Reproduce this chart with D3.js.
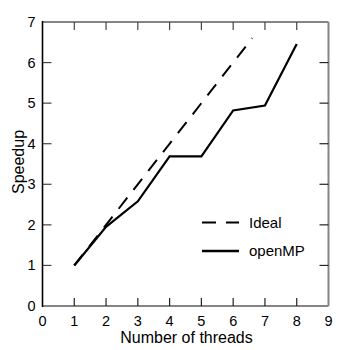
<!DOCTYPE html>
<html>
<head>
<meta charset="utf-8">
<script src="https://cdn.jsdelivr.net/npm/d3@7"></script>
<style>
  body { margin: 0; background: #fff; }
  text { font-family: "Liberation Sans", Arial, sans-serif; }
</style>
</head>
<body>
<div id="container"></div>
<script>
const threads = [1, 2, 3, 4, 5, 6, 7, 8],
      openMP = [1, 1.95, 2.58, 3.69, 3.69, 4.82, 4.94, 6.46];
const idealX = [1, 6.6],
      idealY = [1, 6.6];
const xTicks = [0, 1, 2, 3, 4, 5, 6, 7, 8, 9],
      yTicks = [0, 1, 2, 3, 4, 5, 6, 7];
const seriesNames = ["Ideal", "openMP"];

const WIDTH = 346, HEIGHT = 350;
const margin = { top: 22, left: 42.5, right: 17.5, bottom: 44 };
const width = WIDTH - margin.left - margin.right,
      height = HEIGHT - margin.top - margin.bottom;

const svg = d3.select('#container').append('svg')
    .attr("width", WIDTH).attr("height", HEIGHT);

const g = svg.append('g')
    .attr("transform", `translate(${margin.left},${margin.top})`);

const xScale = d3.scaleLinear().domain([0, 9]).range([0, width]);
const yScale = d3.scaleLinear().domain([0, 7]).range([height, 0]);

// box: top / right / bottom grey, left black
const grey = "#858585";
g.append("line").attr("x1", 0).attr("x2", width).attr("y1", 0).attr("y2", 0)
    .attr("stroke", grey).attr("stroke-width", 2);
g.append("line").attr("x1", width).attr("x2", width).attr("y1", 0).attr("y2", height)
    .attr("stroke", grey).attr("stroke-width", 2);
g.append("line").attr("x1", 0).attr("x2", width).attr("y1", height).attr("y2", height)
    .attr("stroke", grey).attr("stroke-width", 2);

// inward ticks on all four sides
const tickLen = 8;
g.selectAll(".xtb").data(xTicks.slice(1, -1)).join("line")
    .attr("x1", d => xScale(d)).attr("x2", d => xScale(d))
    .attr("y1", height).attr("y2", height - tickLen)
    .attr("stroke", "#222").attr("stroke-width", 1.2);
g.selectAll(".xtt").data(xTicks.slice(1, -1)).join("line")
    .attr("x1", d => xScale(d)).attr("x2", d => xScale(d))
    .attr("y1", 0).attr("y2", tickLen)
    .attr("stroke", "#444").attr("stroke-width", 1.2);
g.selectAll(".ytl").data(yTicks.slice(1, -1)).join("line")
    .attr("x1", 0).attr("x2", tickLen + 1)
    .attr("y1", d => yScale(d)).attr("y2", d => yScale(d))
    .attr("stroke", "#444").attr("stroke-width", 1.2);
g.selectAll(".ytr").data(yTicks.slice(1, -1)).join("line")
    .attr("x1", width).attr("x2", width - tickLen - 1)
    .attr("y1", d => yScale(d)).attr("y2", d => yScale(d))
    .attr("stroke", "#222").attr("stroke-width", 1.2);

g.append("line").attr("x1", 0).attr("x2", 0).attr("y1", -1).attr("y2", height + 1)
    .attr("stroke", "#000").attr("stroke-width", 1.6);

// tick labels
g.selectAll(".xl").data(xTicks).join("text")
    .attr("x", d => xScale(d)).attr("y", height + 19.5)
    .attr("text-anchor", "middle").style("font-size", "14.5px")
    .text(d => d);
g.selectAll(".yl").data(yTicks).join("text")
    .attr("x", -7).attr("y", d => yScale(d) + 5)
    .attr("text-anchor", "end").style("font-size", "14.5px")
    .text(d => d);

// axis titles
svg.append("text")
    .attr("x", margin.left + width / 2 + 1).attr("y", 343)
    .attr("text-anchor", "middle").style("font-size", "16px")
    .text("Number of threads");
svg.append("text")
    .attr("transform", `translate(24,${margin.top + height / 2 - 2}) rotate(-90)`)
    .attr("text-anchor", "middle").style("font-size", "16px")
    .text("Speedup");

// series
const line = d3.line().x(d => xScale(d[0])).y(d => yScale(d[1]));

g.append("path")
    .datum(d3.zip(idealX, idealY))
    .attr("d", line).attr("fill", "none")
    .attr("stroke", "#000").attr("stroke-width", 2)
    .attr("stroke-dasharray", "14,10");

g.append("path")
    .datum(d3.zip(threads, openMP))
    .attr("d", line).attr("fill", "none")
    .attr("stroke", "#000").attr("stroke-width", 2.2)
    .attr("stroke-linejoin", "miter");

// legend
const legend = svg.append("g");
const legY = [222.5, 251];
seriesNames.forEach((name, i) => {
    legend.append("line")
        .attr("x1", 202).attr("x2", 239)
        .attr("y1", legY[i]).attr("y2", legY[i])
        .attr("stroke", "#000").attr("stroke-width", i === 0 ? 2 : 2.4)
        .attr("stroke-dasharray", i === 0 ? "14,10" : null);
    legend.append("text")
        .attr("x", 249).attr("y", legY[i] + 5)
        .style("font-size", "15px")
        .text(name);
});
</script>
</body>
</html>
